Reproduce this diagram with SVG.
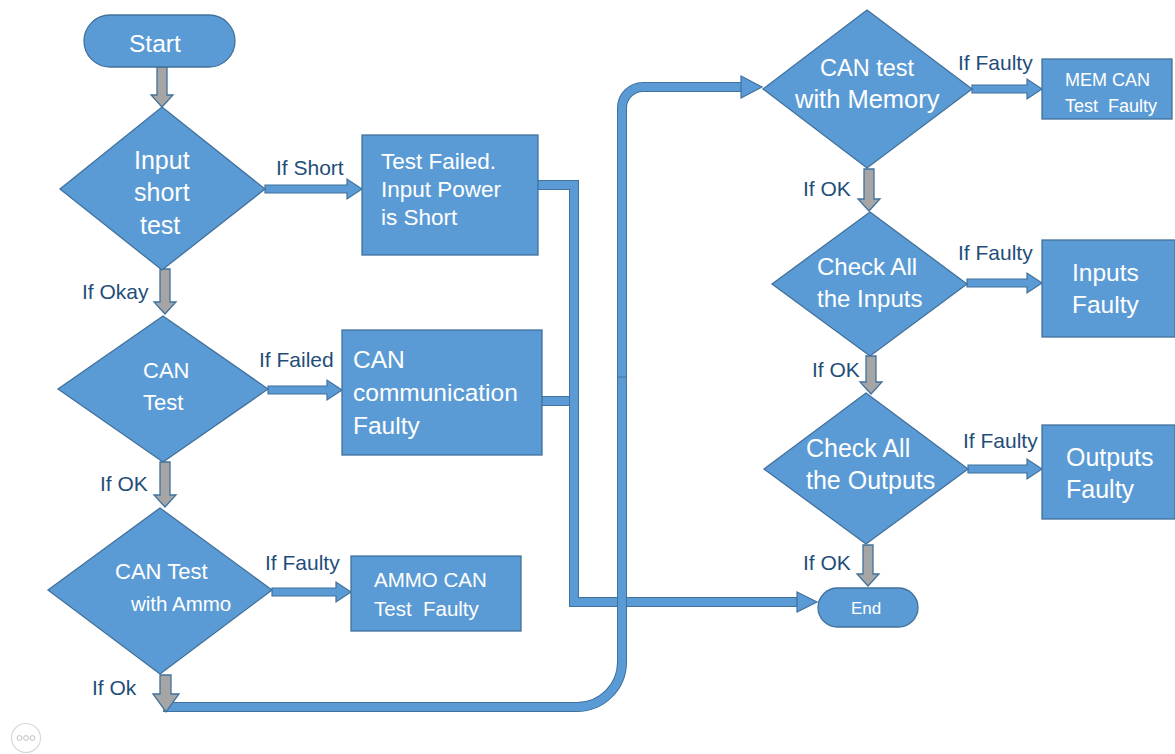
<svg xmlns="http://www.w3.org/2000/svg" width="1175" height="754" viewBox="0 0 1175 754">
  <style>
    .shape { fill: #5B9BD5; stroke: #41719C; stroke-width: 1.3; }
    .txt { font-family: "Liberation Sans", Arial, sans-serif; fill: #FFFFFF; }
    .lbl { font-family: "Liberation Sans", Arial, sans-serif; fill: #1F4E79; font-size: 21px; }
    .pre { white-space: pre; }
    .gray { fill: #A5A5A5; stroke: #41719C; stroke-width: 1.3; }
    .arr { fill: #5B9BD5; stroke: #41719C; stroke-width: 1.2; }
    .pipe-o { fill: none; stroke: #41719C; stroke-width: 10; }
    .pipe-i { fill: none; stroke: #5B9BD5; stroke-width: 8; }
  </style>

  <!-- thick elbow connectors -->
  <g id="connectors">
    <!-- CAN communication box to the shared trunk -->
    <path class="pipe-o" d="M542,401 H574"/>
    <path class="pipe-i" d="M542,401 H574"/>
    <!-- Test Failed box down to End -->
    <path class="pipe-o" d="M538,185 H574 V602 H800"/>
    <path class="pipe-i" d="M538,185 H574 V602 H800"/>
    <polygon class="arr" points="797,592 817,602 797,612"/>
    <!-- CAN Test with Ammo OK path up to CAN test with Memory -->
    <path class="pipe-o" d="M163,707 H577 A45,45 0 0 0 622,662 V108 A21,21 0 0 1 643,87 H745"/>
    <path class="pipe-i" d="M163,707 H577 A45,45 0 0 0 622,662 V108 A21,21 0 0 1 643,87 H745"/>
    <line x1="617" y1="377" x2="627" y2="377" stroke="#41719C" stroke-width="1"/>
    <polygon class="arr" points="741,76 762,87 741,98"/>

    <!-- branch arrows -->
    <polygon class="arr" points="265,185 347,185 347,179 362,189 347,199 347,193 265,193"/>
    <polygon class="arr" points="268,386 327,386 327,380 342,390 327,400 327,394 268,394"/>
    <polygon class="arr" points="272,588 336,588 336,582 351,592 336,602 336,596 272,596"/>
    <polygon class="arr" points="972,85 1027,85 1027,79 1042,89 1027,99 1027,93 972,93"/>
    <polygon class="arr" points="967,279 1027,279 1027,273 1042,283 1027,293 1027,287 967,287"/>
    <polygon class="arr" points="968,465 1027,465 1027,459 1042,469 1027,479 1027,473 968,473"/>

    <!-- downward flow arrows -->
    <polygon class="gray" points="157,67 167,67 167,95 173,95 162,107 151,95 157,95"/>
    <polygon class="gray" points="160,269 170,269 170,302 176,302 165,314 154,302 160,302"/>
    <polygon class="gray" points="160,462 170,462 170,495 176,495 165,507 154,495 160,495"/>
    <polygon class="gray" points="160,675 171,675 171,694 179,694 166,712 153,694 160,694"/>
    <polygon class="gray" points="864,169 874,169 874,199 880,199 869,211 858,199 864,199"/>
    <polygon class="gray" points="866,356 876,356 876,382 882,382 871,394 860,382 866,382"/>
    <polygon class="gray" points="863,545 873,545 873,574 879,574 868,586 857,574 863,574"/>
  </g>

  <g id="start">
    <rect class="shape" x="84" y="15" width="151" height="52" rx="26"/>
    <text class="txt" x="129" y="52" font-size="24.5">Start</text>
  </g>

  <g id="input-short-test">
    <polygon class="shape" points="162,107 265,189 162,270 60,189"/>
    <text class="txt" font-size="25"><tspan x="134" y="169">Input</tspan><tspan x="134" y="201">short</tspan><tspan x="140" y="234">test</tspan></text>
  </g>

  <g id="test-failed">
    <rect class="shape" x="362" y="135" width="176" height="120"/>
    <text class="txt" font-size="22.5"><tspan x="381" y="169">Test Failed.</tspan><tspan x="381" y="197">Input Power</tspan><tspan x="381" y="225">is Short</tspan></text>
  </g>

  <g id="can-test">
    <polygon class="shape" points="163,316 268,389 163,462 58,389"/>
    <text class="txt" font-size="22"><tspan x="143" y="378">CAN</tspan><tspan x="143" y="410">Test</tspan></text>
  </g>

  <g id="can-comm-faulty">
    <rect class="shape" x="342" y="330" width="200" height="125"/>
    <text class="txt" font-size="24.5"><tspan x="353" y="368">CAN</tspan><tspan x="353" y="401">communication</tspan><tspan x="353" y="434">Faulty</tspan></text>
  </g>

  <g id="can-test-ammo">
    <polygon class="shape" points="160,508 272,590 160,674 48,590"/>
    <text class="txt" font-size="22"><tspan x="115" y="579">CAN Test</tspan><tspan x="131" y="611" font-size="20.5">with Ammo</tspan></text>
  </g>

  <g id="ammo-faulty">
    <rect class="shape" x="351" y="556" width="170" height="75"/>
    <text class="txt pre" font-size="20.5"><tspan x="374" y="587">AMMO CAN</tspan><tspan x="374" y="616">Test  Faulty</tspan></text>
  </g>

  <g id="can-test-memory">
    <polygon class="shape" points="867,10 972,89 867,168 763,89"/>
    <text class="txt" font-size="23.5"><tspan x="820" y="76">CAN test</tspan><tspan x="795" y="108" font-size="25.5">with Memory</tspan></text>
  </g>

  <g id="mem-faulty">
    <rect class="shape" x="1042" y="59" width="130" height="60"/>
    <text class="txt pre" font-size="18"><tspan x="1065" y="86">MEM CAN</tspan><tspan x="1065" y="112">Test  Faulty</tspan></text>
  </g>

  <g id="check-inputs">
    <polygon class="shape" points="870,212 967,284 870,356 772,284"/>
    <text class="txt" font-size="24"><tspan x="817" y="275">Check All</tspan><tspan x="817" y="307">the Inputs</tspan></text>
  </g>

  <g id="inputs-faulty">
    <rect class="shape" x="1042" y="240" width="133" height="97"/>
    <text class="txt" font-size="24.5"><tspan x="1072" y="281">Inputs</tspan><tspan x="1072" y="313">Faulty</tspan></text>
  </g>

  <g id="check-outputs">
    <polygon class="shape" points="866,393 968,469 866,544 764,469"/>
    <text class="txt" font-size="25"><tspan x="806" y="457">Check All</tspan><tspan x="806" y="489">the Outputs</tspan></text>
  </g>

  <g id="outputs-faulty">
    <rect class="shape" x="1042" y="425" width="133" height="94"/>
    <text class="txt" font-size="25"><tspan x="1066" y="466">Outputs</tspan><tspan x="1066" y="498">Faulty</tspan></text>
  </g>

  <g id="end">
    <rect class="shape" x="818" y="588" width="100" height="39" rx="19.5"/>
    <text class="txt" x="851" y="614" font-size="17">End</text>
  </g>

  <!-- branch labels -->
  <g id="labels">
    <text class="lbl" x="276" y="175">If Short</text>
    <text class="lbl" x="82" y="299">If Okay</text>
    <text class="lbl" x="259" y="367">If Failed</text>
    <text class="lbl" x="100" y="491">If OK</text>
    <text class="lbl" x="265" y="570">If Faulty</text>
    <text class="lbl" x="92" y="695">If Ok</text>
    <text class="lbl" x="958" y="70">If Faulty</text>
    <text class="lbl" x="803" y="196">If OK</text>
    <text class="lbl" x="958" y="260">If Faulty</text>
    <text class="lbl" x="812" y="377">If OK</text>
    <text class="lbl" x="963" y="448">If Faulty</text>
    <text class="lbl" x="803" y="570">If OK</text>
  </g>

  <!-- small menu button -->
  <g id="menu-button">
    <circle cx="26" cy="738" r="14.5" fill="#FFFFFF" stroke="#D9D9D9" stroke-width="1.2"/>
    <circle cx="19.5" cy="738" r="2.4" fill="none" stroke="#BFBFBF" stroke-width="1"/>
    <circle cx="26" cy="738" r="2.4" fill="none" stroke="#BFBFBF" stroke-width="1"/>
    <circle cx="32.5" cy="738" r="2.4" fill="none" stroke="#BFBFBF" stroke-width="1"/>
  </g>
</svg>
